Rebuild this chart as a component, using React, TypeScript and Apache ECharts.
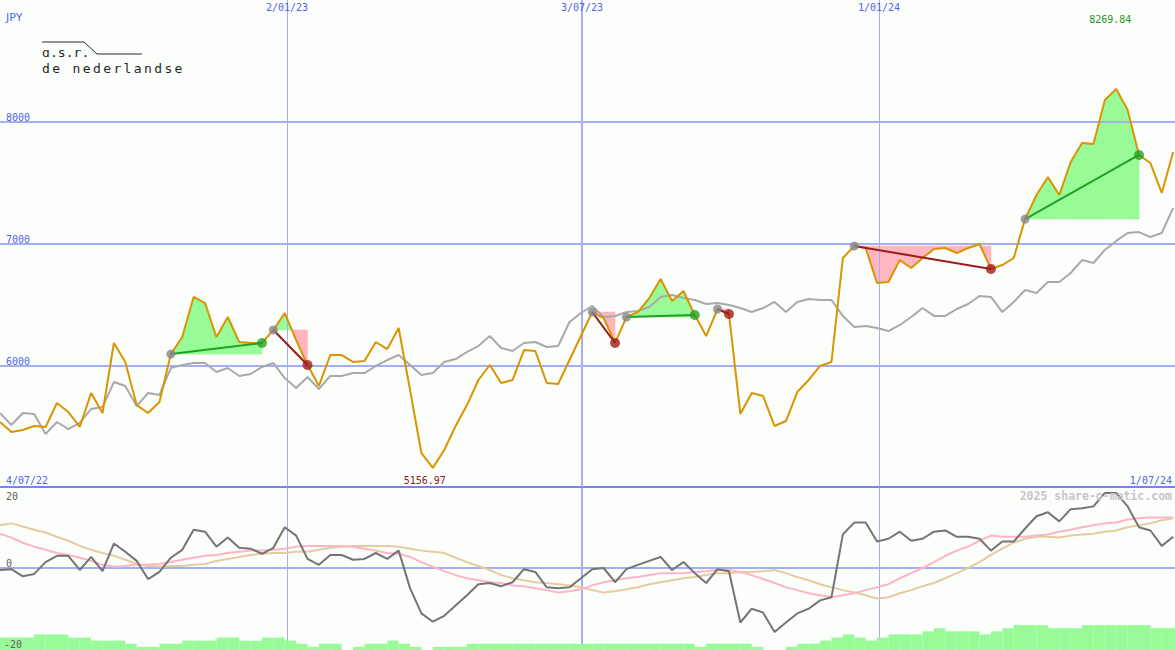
import React, { useEffect, useRef } from 'react';
import * as echarts from 'echarts';

// ---- data (weekly points, index 0..103) ----
const closePrice = [
  5534, 5452, 5468, 5501, 5493, 5690, 5616, 5493, 5772, 5608,
  6183, 6027, 5673, 5608, 5698, 6092, 6232, 6561, 6511, 6232,
  6396, 6191, 6183, 6183, 6290, 6429, 6207, 6002, 5830, 6084,
  6084, 6027, 6035, 6191, 6133, 6306, 5797, 5279, 5156.97, 5304,
  5501, 5673, 5879, 6002, 5854, 5879, 6125, 6117, 5854, 5846,
  6043, 6240, 6437, 6388, 6183, 6396, 6437, 6552, 6708, 6528,
  6610, 6413, 6240, 6462, 6421, 5600, 5772, 5747, 5501, 5542,
  5780, 5879, 5994, 6027, 6881, 6979, 6963, 6676, 6684, 6864,
  6799, 6881, 6955, 6963, 6922, 6963, 6996, 6791, 6823, 6881,
  7201, 7398, 7546, 7398, 7669, 7825, 7817, 8179, 8269.84, 8097,
  7727, 7661, 7415, 7752,
];

const movingAverage = [
  5608, 5509, 5608, 5600, 5435, 5534, 5476, 5526, 5641, 5657,
  5862, 5830, 5665, 5772, 5756, 5977, 6002, 6018, 6018, 5945,
  5977, 5912, 5928, 5986, 6018, 5895, 5813, 5903, 5805, 5912,
  5912, 5936, 5936, 5994, 6043, 6084, 6002, 5920, 5936, 6027,
  6051, 6109, 6158, 6240, 6142, 6117, 6183, 6191, 6150, 6158,
  6355, 6429, 6487, 6396, 6405, 6437, 6446, 6478, 6561, 6577,
  6552, 6536, 6503, 6511, 6495, 6470, 6437, 6470, 6520, 6437,
  6520, 6544, 6536, 6536, 6405, 6314, 6322, 6306, 6281, 6331,
  6396, 6470, 6405, 6405, 6462, 6503, 6569, 6561, 6437, 6520,
  6618, 6593, 6684, 6684, 6758, 6864, 6840, 6947, 7021, 7086,
  7094, 7053, 7086, 7292,
];

const momentum = [
  -0.5, -0.3, -2.1, -1.5, 1.5, 3.1, 3.1, -0.5, 2.8, -0.8,
  6.2, 4.1, 1.8, -2.8, -1.0, 2.6, 4.6, 9.7, 9.2, 5.4,
  7.7, 5.1, 4.9, 3.6, 5.1, 10.3, 8.2, 2.3, 0.8, 3.3,
  3.3, 2.1, 2.3, 3.8, 2.3, 4.4, -5.1, -11.5, -13.6, -12.1,
  -9.5, -6.9, -4.1, -3.8, -4.6, -3.6, -0.3, -1.0, -4.9, -5.1,
  -4.9, -2.6, -0.3, 0, -3.6, -0.3, 0.8, 1.8, 2.8, -0.5,
  1.5, -1.3, -3.8, -0.3, -0.8, -13.8, -10.3, -11.3, -16.2, -13.8,
  -11.5, -10.3, -8.2, -7.4, 8.5, 11.5, 11.5, 6.7, 7.4, 9.2,
  6.9, 7.4, 9.2, 9.5, 7.9, 7.9, 7.4, 4.4, 6.7, 6.7,
  10.0, 13.1, 14.1, 11.8, 14.9, 15.1, 15.6, 19.0, 19.0, 15.6,
  10.3, 9.5, 5.6, 7.9,
];

const momentumFast = [
  8.7, 7.7, 6.4, 5.4, 4.6, 3.8, 3.3, 2.6, 1.8, 0.8,
  0.3, 0.5, 0.8, 0.8, 1.0, 1.5, 2.1, 2.6, 3.1, 3.3,
  3.8, 4.1, 4.4, 4.4, 4.6, 4.9, 5.4, 5.6, 5.6, 5.6,
  5.6, 5.4, 4.9, 4.4, 3.8, 3.6, 2.8, 1.5, 0.3, -0.8,
  -1.8, -2.6, -3.1, -3.6, -3.8, -4.4, -4.6, -5.1, -5.6, -6.2,
  -5.9, -5.4, -4.4, -3.6, -3.1, -2.6, -2.3, -1.8, -1.3, -1.3,
  -1.3, -1.0, -0.8, -0.5, -0.5, -1.0, -1.8, -2.8, -3.8, -4.9,
  -5.6, -6.4, -6.9, -7.4, -6.9, -6.4, -5.6, -4.9, -4.1, -2.6,
  -1.3, 0, 1.5, 3.1, 4.4, 5.4, 6.9, 8.2, 7.9, 7.9,
  7.9, 8.2, 8.5, 9.2, 9.7, 10.3, 10.8, 11.3, 11.5, 12.3,
  12.6, 12.8, 12.8, 12.8,
];

const momentumSlow = [
  10.8, 11.3, 10.5, 9.7, 9.0, 7.9, 6.9, 5.6, 4.6, 3.8,
  3.1, 2.1, 1.0, 0.5, 0.3, 0.5, 0.5, 0.8, 1.0, 1.8,
  2.3, 2.8, 3.3, 3.6, 3.8, 3.8, 4.1, 4.1, 4.6, 5.1,
  5.4, 5.6, 5.6, 5.6, 5.6, 5.4, 4.9, 4.4, 4.1, 3.8,
  2.6, 1.5, 0.5, -0.5, -1.8, -2.6, -3.1, -3.6, -3.8, -4.1,
  -4.4, -4.9, -5.6, -6.2, -5.9, -5.4, -4.9, -4.1, -3.6, -3.1,
  -2.6, -2.3, -1.8, -1.3, -1.3, -1.0, -1.0, -0.8, -0.5, -1.3,
  -2.3, -3.1, -4.1, -4.9, -5.6, -6.2, -6.9, -7.7, -7.4, -6.4,
  -5.6, -4.6, -3.8, -2.6, -1.3, 0, 1.5, 3.3, 4.9, 6.4,
  7.4, 7.9, 7.9, 7.7, 8.2, 8.5, 8.7, 9.2, 9.5, 10.3,
  10.8, 11.3, 12.1, 12.6,
];

const volumeLevel = [
  4, 4, 4, 5, 5, 5, 4, 4, 3, 3,
  3, 2, 1, 1, 2, 2, 3, 3, 3, 4,
  4, 3, 3, 4, 4, 3, 2, 1, 2, 2,
  0, 1, 2, 2, 3, 2, 1, 0, 1, 1,
  1, 2, 2, 2, 2, 2, 2, 2, 2, 2,
  2, 2, 2, 2, 2, 2, 2, 2, 2, 2,
  2, 1, 2, 2, 2, 2, 1, 0, 0, 1,
  2, 2, 3, 4, 5, 4, 3, 4, 5, 5,
  5, 6, 7, 6, 6, 6, 5, 6, 7, 8,
  8, 8, 7, 7, 7, 8, 8, 8, 8, 8,
  8, 7, 7, 7,
];

const signalStart = [15, 24, 52, 55, 63, 75, 90];
const signalEnd = [23, 27, 54, 61, 64, 87, 100];

const dateMarkPos = [25.2, 51.1, 77.17];
const dateMarkLabels = ['2/01/23', '3/07/23', '1/01/24'];
const priceTicks = [6000, 7000, 8000];
const lowerTicks = [20, 0, -20];
const firstDateLabel = '4/07/22';
const lastDateLabel = '1/07/24';
const currency = 'JPY';
const watermark = '2025 share-o-matic.com';
const logoLine1 = 'ɑ.s.r.';
const logoLine2 = 'de nederlandse';

const X_MAX = 103.16;
const MONO = '"DejaVu Sans Mono", monospace';
const GRID_BLUE = '#a3aff3';
const TEXT_BLUE = '#5262ee';
const GREEN_FILL = '#98fb98';
const PINK_FILL = '#ffb6c1';

export default function App() {
  const ref = useRef<HTMLDivElement>(null);

  useEffect(() => {
    if (!ref.current) return;
    const chart = echarts.init(ref.current, null, { renderer: 'svg' });

    const isWin = (k: number) => closePrice[signalEnd[k]] > closePrice[signalStart[k]];

    const poly = (points: number[][], up: boolean) => ({
      type: 'polygon',
      shape: { points },
      style: { fill: up ? GREEN_FILL : PINK_FILL, stroke: up ? GREEN_FILL : PINK_FILL, lineWidth: 0.6 },
    });

    const renderFill = (params: any, api: any) => {
      const s = api.value(0);
      const e = api.value(1);
      const level = closePrice[s];
      const children: any[] = [];
      for (let j = s; j < e; j++) {
        const a = api.coord([j, closePrice[j]]);
        const b = api.coord([j + 1, closePrice[j + 1]]);
        const yb = api.coord([j, level])[1];
        const va = closePrice[j] - level;
        const vb = closePrice[j + 1] - level;
        if (va * vb < 0) {
          const t = va / (va - vb);
          const cx = a[0] + t * (b[0] - a[0]);
          children.push(poly([a, [cx, yb], [a[0], yb]], va > 0));
          children.push(poly([[cx, yb], b, [b[0], yb]], vb > 0));
        } else {
          children.push(poly([a, b, [b[0], yb], [a[0], yb]], va + vb >= 0));
        }
      }
      return { type: 'group', children };
    };

    const axisX = (k: number) => ({
      type: 'value',
      gridIndex: k,
      min: 0,
      max: X_MAX,
      show: k === 0,
      axisLine: { show: k === 0, onZero: false, lineStyle: { color: '#7884ec', width: 2 } },
      axisTick: { show: false },
      axisLabel: { show: false },
      splitLine: { show: false },
    });

    const option: any = {
      animation: false,
      backgroundColor: '#fcfefc',
      grid: [
        { left: 0, right: 0, top: 0, height: 487 },
        { left: 0, right: 0, top: 489, height: 158 },
        { left: 0, right: 0, top: 488, height: 162 },
      ],
      xAxis: [axisX(0), axisX(1), axisX(2)],
      yAxis: [
        { type: 'value', gridIndex: 0, min: 5000, max: 9000, show: false },
        { type: 'value', gridIndex: 1, min: -20, max: 20, show: false },
        { type: 'value', gridIndex: 2, min: 0, max: 52, show: false },
      ],
      series: [
        {
          type: 'custom',
          xAxisIndex: 0,
          yAxisIndex: 0,
          z: 1,
          silent: true,
          data: signalStart.map((s, k) => [s, signalEnd[k], closePrice[s]]),
          encode: { x: [0, 1], y: 2 },
          renderItem: renderFill,
          markLine: {
            silent: true,
            z: 2,
            symbol: 'none',
            label: { show: false },
            lineStyle: { color: GRID_BLUE, width: 2, type: 'solid' },
            data: [
              ...priceTicks.map((v) => ({ yAxis: v })),
              ...dateMarkPos.map((x, k) => ({ xAxis: x, lineStyle: { color: GRID_BLUE, width: k === 1 ? 2 : 1, type: 'solid' } })),
            ],
          },
        },
        {
          type: 'line',
          xAxisIndex: 0,
          yAxisIndex: 0,
          z: 3,
          silent: true,
          symbol: 'none',
          data: movingAverage.map((v, i) => [i, v]),
          lineStyle: { color: '#a9a9a9', width: 2 },
        },
        {
          type: 'line',
          xAxisIndex: 0,
          yAxisIndex: 0,
          z: 4,
          silent: true,
          symbol: 'none',
          data: closePrice.map((v, i) => [i, v]),
          lineStyle: { color: '#db9300', width: 2 },
        },
        {
          type: 'lines',
          coordinateSystem: 'cartesian2d',
          xAxisIndex: 0,
          yAxisIndex: 0,
          z: 5,
          silent: true,
          data: signalStart.map((s, k) => {
            const e = signalEnd[k];
            return {
              coords: [[s, closePrice[s]], [e, closePrice[e]]],
              lineStyle: { color: isWin(k) ? '#22a022' : '#9b1c1c', width: 2, opacity: 1 },
            };
          }),
          lineStyle: { width: 2, opacity: 1 },
        },
        {
          type: 'scatter',
          xAxisIndex: 0,
          yAxisIndex: 0,
          z: 6,
          silent: true,
          symbol: 'circle',
          data: [
            ...signalStart.map((s) => ({ value: [s, closePrice[s]], symbolSize: 9, itemStyle: { color: '#868686' } })),
            ...signalEnd.map((e, k) => ({
              value: [e, closePrice[e]],
              symbolSize: 10,
              itemStyle: { color: isWin(k) ? '#25a025' : '#a31c1c' },
            })),
          ],
        },
        {
          type: 'bar',
          xAxisIndex: 2,
          yAxisIndex: 2,
          z: 2,
          silent: true,
          barWidth: 11.4,
          data: volumeLevel.map((v, i) => [i + 0.5, v]),
          itemStyle: { color: GREEN_FILL },
          markLine: {
            silent: true,
            z: 1,
            symbol: 'none',
            label: { show: false },
            data: dateMarkPos.map((x, k) => ({ xAxis: x, lineStyle: { color: GRID_BLUE, width: k === 1 ? 2 : 1, type: 'solid' } })),
          },
        },
        {
          type: 'line',
          xAxisIndex: 1,
          yAxisIndex: 1,
          z: 3,
          silent: true,
          symbol: 'none',
          data: momentumSlow.map((v, i) => [i, v]),
          lineStyle: { color: '#e4cc9e', width: 2 },
          markLine: {
            silent: true,
            z: 2,
            symbol: 'none',
            label: { show: false },
            lineStyle: { color: GRID_BLUE, width: 2, type: 'solid' },
            data: [{ yAxis: 0 }],
          },
        },
        {
          type: 'line',
          xAxisIndex: 1,
          yAxisIndex: 1,
          z: 4,
          silent: true,
          symbol: 'none',
          data: momentumFast.map((v, i) => [i, v]),
          lineStyle: { color: '#ffb4c6', width: 2 },
        },
        {
          type: 'line',
          xAxisIndex: 1,
          yAxisIndex: 1,
          z: 5,
          silent: true,
          symbol: 'none',
          data: momentum.map((v, i) => [i, v]),
          lineStyle: { color: '#747474', width: 2 },
        },
      ],
    };

    chart.setOption(option);

    const px = (v: number) => chart.convertToPixel({ xAxisIndex: 0 } as any, v) as unknown as number;
    const py = (v: number) => chart.convertToPixel({ yAxisIndex: 0 } as any, v) as unknown as number;
    const ly = (v: number) => chart.convertToPixel({ yAxisIndex: 1 } as any, v) as unknown as number;

    const F10 = `10px ${MONO}`;
    const txt = (text: string, x: number, y: number, align: string, vAlign: string, fill: string, font: string) => ({
      type: 'text',
      x,
      y,
      silent: true,
      z: 50,
      style: { text, fill, font, align, verticalAlign: vAlign },
    });

    const minIdx = closePrice.indexOf(Math.min(...closePrice));
    const maxIdx = closePrice.indexOf(Math.max(...closePrice));

    const logoChars = (text: string, x0: number, pitch: number, yBottom: number) =>
      Array.from(text).map((ch, i) =>
        txt(ch, x0 + i * pitch, yBottom, 'left', 'bottom', '#262626', `13px ${MONO}`)
      );

    const elements: any[] = [
      ...dateMarkLabels.map((t, k) => txt(t, px(dateMarkPos[k]), 2, 'center', 'top', TEXT_BLUE, F10)),
      txt(currency, 6, 12, 'left', 'top', TEXT_BLUE, '11px "DejaVu Sans", sans-serif'),
      ...priceTicks.map((v) => txt(String(v), 6, py(v) + 1, 'left', 'bottom', TEXT_BLUE, F10)),
      txt(firstDateLabel, 6, 485, 'left', 'bottom', TEXT_BLUE, F10),
      txt(lastDateLabel, 1172, 485, 'right', 'bottom', TEXT_BLUE, F10),
      txt(closePrice[minIdx].toFixed(2), px(minIdx) - 8, 485, 'center', 'bottom', '#8b1a1a', F10),
      txt(closePrice[maxIdx].toFixed(2), px(maxIdx) - 6, 14, 'center', 'top', '#209520', F10),
      txt(String(lowerTicks[0]), 6, ly(lowerTicks[0]) + 2, 'left', 'top', '#606060', F10),
      txt(String(lowerTicks[1]), 6, ly(lowerTicks[1]), 'left', 'bottom', '#606060', F10),
      txt(String(lowerTicks[2]), 4, ly(lowerTicks[2]) + 2, 'left', 'bottom', '#606060', F10),
      txt(watermark, 1172, 490, 'right', 'top', '#c6c6c6', `bold 11.5px ${MONO}`),
      {
        type: 'polyline',
        silent: true,
        z: 50,
        shape: { points: [[42, 42], [84, 42], [97, 54], [142, 54]] },
        style: { stroke: '#2a2a2a', lineWidth: 1, fill: null },
      },
      ...logoChars(logoLine1, 42, 7.9, 59),
      ...logoChars(logoLine2, 42, 10.2, 75),
    ];

    chart.setOption({ graphic: elements });

    return () => {
      chart.dispose();
    };
  }, []);

  return (
    <div
      ref={ref}
      style={{ position: 'absolute', left: 0, top: 0, width: 1175, height: 650 }}
    />
  );
}
